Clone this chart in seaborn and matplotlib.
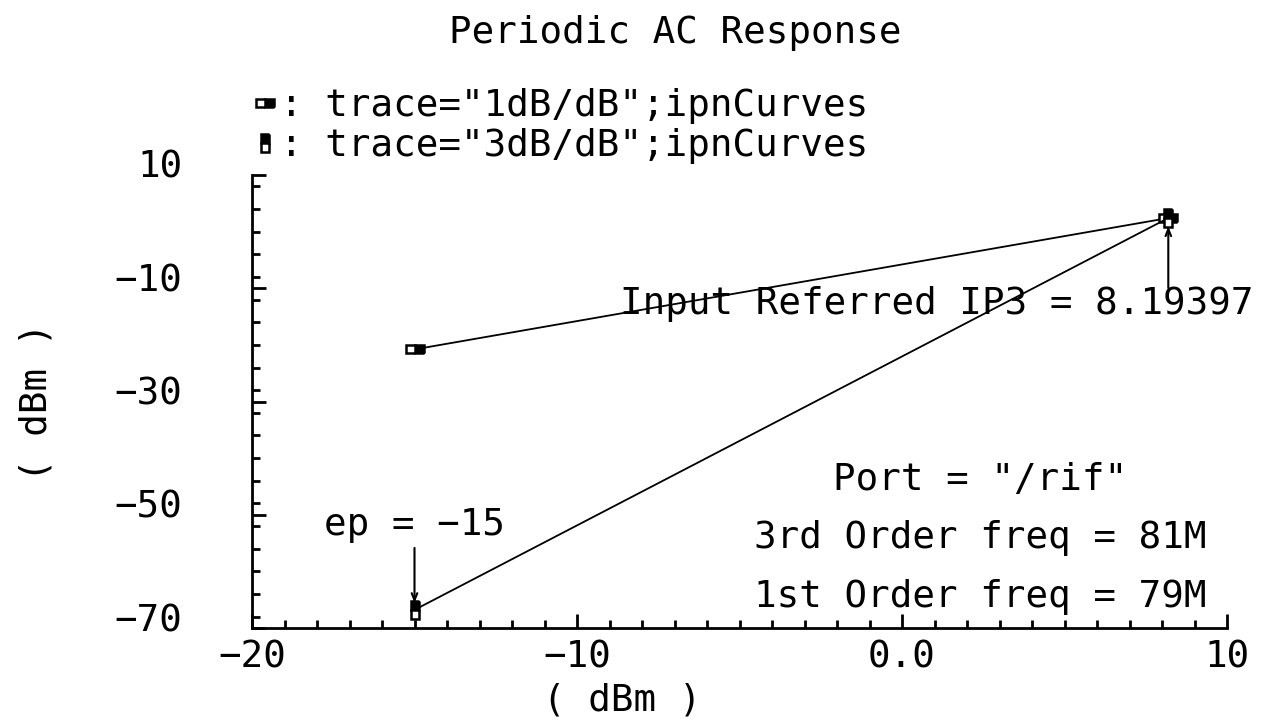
import pandas as pd
import matplotlib
matplotlib.use("Agg")
import matplotlib.pyplot as plt
import matplotlib.transforms as mtransforms
from matplotlib.lines import Line2D
from matplotlib.markers import MarkerStyle
from matplotlib.ticker import MultipleLocator
import seaborn as sns

# input power (dBm): start point and input referred IP3
input_power = [-15.0, 8.19397]
out_1db = [-20.8, 2.4]
out_3db = [-66.8, 2.4]
trace_names = ['trace="1dB/dB";ipnCurves', 'trace="3dB/dB";ipnCurves']

x_ticks = [-20, -10, 0, 10]
x_tick_labels = ["−20", "−10", "0.0", "10"]
y_ticks = [10, -10, -30, -50, -70]
y_tick_labels = ["10", "−10", "−30", "−50", "−70"]

port_info = ['Port = "/rif"', "3rd Order freq = 81M", "1st Order freq = 79M"]
ip3_label = "Input Referred IP3 = 8.19397"
ep_label = "ep = −15"

df = pd.DataFrame({
    "pin": input_power + input_power,
    "pout": out_1db + out_3db,
    "trace": [trace_names[0]] * 2 + [trace_names[1]] * 2,
})

sns.set_style("ticks")
plt.rcParams["font.family"] = ["DejaVu Sans Mono", "DejaVu Sans"]
plt.rcParams.update({"text.color": "black", "axes.labelcolor": "black",
                     "xtick.color": "black", "ytick.color": "black"})
FS = 27

W, H = 1267, 727
fig = plt.figure(figsize=(W / 100, H / 100), dpi=100)
ax = fig.add_axes([252 / W, 99 / H, 975 / W, 453 / H])

# half filled box markers like the simulator draws
def box(sx, sy, fill):
    return MarkerStyle("s", fillstyle=fill, transform=mtransforms.Affine2D().scale(sx, sy))

boxes = [box(2.6, 1, "right"), box(1, 2.6, "top")]
mk_kw = dict(markersize=5.2, markerfacecolor="black", markerfacecoloralt="white",
             markeredgecolor="black", markeredgewidth=1.8)

for name, mk in zip(trace_names, boxes):
    sns.lineplot(data=df[df["trace"] == name], x="pin", y="pout", ax=ax,
                 color="black", lw=1.3, marker=mk, legend=False, **mk_kw)

ax.set_xlim(-20, 10)
ax.set_ylim(-70, 10)
ax.set_xticks(x_ticks, x_tick_labels, fontsize=FS)
ax.set_yticks(y_ticks, y_tick_labels, fontsize=FS)
ax.xaxis.set_minor_locator(MultipleLocator(1))
ax.yaxis.set_minor_locator(MultipleLocator(4))
ax.tick_params(which="both", direction="in", width=2, color="black",
               bottom=True, left=True, top=False, right=False)
ax.tick_params(which="major", length=10)
ax.tick_params(which="minor", length=6)
ax.tick_params(axis="x", which="major", pad=8)
ax.tick_params(axis="y", which="major", pad=50)
for t in ax.yaxis.get_major_ticks():
    t.label1.set_transform(t.label1.get_transform()
                           + mtransforms.ScaledTranslation(0, 0.11, fig.dpi_scale_trans))

sns.despine(ax=ax)
for s in ["left", "bottom"]:
    ax.spines[s].set_linewidth(2)
    ax.spines[s].set_color("black")

ax.set_xlabel("( dBm )", fontsize=FS)
ax.xaxis.set_label_coords((622 - 252) / 975, (628 - 700) / 453)
ax.xaxis.label.set_va("center")
ax.set_ylabel("( dBm )", fontsize=FS)
ax.yaxis.set_label_coords((37 - 252) / 975, 0.5)
ax.yaxis.label.set_va("center")

fig.text(675 / W, 1 - 33 / H, "Periodic AC Response", ha="center", va="center", fontsize=FS)

# legend: marker then ": trace=..."
handles = [Line2D([], [], ls="none", marker=mk, **mk_kw) for mk in boxes]
fig.legend(handles, [": " + n for n in trace_names], loc="upper left",
           bbox_to_anchor=(254 / W, 1 - 88 / H), frameon=False, fontsize=FS,
           handlelength=0.6, handletextpad=0.1, labelspacing=0.12, borderpad=0,
           borderaxespad=0)

# arrows and marker labels
arrow = dict(arrowstyle="->,head_length=0.5,head_width=0.2", lw=1.5, color="black",
             shrinkA=0)
ax.annotate("", xy=(input_power[0], out_3db[0]), xytext=(0, 62),
            textcoords="offset pixels", arrowprops=dict(arrow, shrinkB=5))
ax.annotate(ep_label, xy=(input_power[0], out_3db[0]), xytext=(0, 85),
            textcoords="offset pixels", ha="center", va="center", fontsize=FS)
ax.annotate("", xy=(input_power[1], out_3db[1]), xytext=(0, -70),
            textcoords="offset pixels", arrowprops=dict(arrow, shrinkB=6))
ax.annotate(ip3_label, xy=(input_power[1], out_3db[1]), xytext=(85, -86),
            textcoords="offset pixels", ha="right", va="center", fontsize=FS)

for txt, yy in zip(port_info, [480, 538, 597]):
    fig.text(980 / W, 1 - yy / H, txt, ha="center", va="center", fontsize=FS)

fig.savefig("out.png", dpi=100)
